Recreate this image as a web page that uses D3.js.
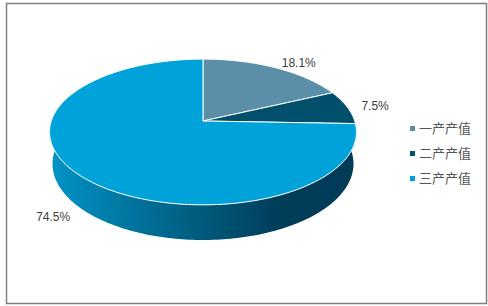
<!DOCTYPE html>
<html>
<head>
<meta charset="utf-8">
<script src="https://d3js.org/d3.v7.min.js"></script>
<style>
body { margin:0; background:#fff; }
svg { display:block; font-family:"Liberation Sans", Arial, "Noto Sans CJK SC", sans-serif; }
</style>
</head>
<body>
<svg id="chart" width="488" height="306"></svg>
<script>
var categories = ['一产产值', '二产产值', '三产产值'];
var values = [18.1, 7.5, 74.5];
var colors = ['#5b8fa8', '#00506b', '#00a2da'];

var W = 488, H = 306;
var svg = d3.select('#chart');

// frame
svg.append('rect')
    .attr('x', 6.5).attr('y', 3.5)
    .attr('width', 480).attr('height', 300)
    .attr('fill', 'none').attr('stroke', '#808080').attr('stroke-width', 1.5);

// simple perspective for a tilted disc
var cx = 203, cy = 121;
var R = 100, depth = 24, dist = 586, focal = 889;
var tilt = 28 * Math.PI / 180;
var st = Math.sin(tilt), ct = Math.cos(tilt);

function project(r, phi, y) {
    var x = r * Math.sin(phi), z = -r * Math.cos(phi);
    var ys = z * st + y * ct;
    var d = dist - z * ct + y * st;
    return [cx + focal * x / d, cy + focal * ys / d];
}

var pie = d3.pie().sort(null).value(function (d) { return d; });
var arcs = pie(values);

function arcPoints(a0, a1, y) {
    var n = Math.max(2, Math.ceil(Math.abs(a1 - a0) / 0.02));
    var pts = [];
    for (var i = 0; i <= n; i++) pts.push(project(R, a0 + (a1 - a0) * i / n, y));
    return pts;
}

// side wall
var defs = svg.append('defs');
var grad = defs.append('linearGradient').attr('id', 'side')
    .attr('gradientUnits', 'userSpaceOnUse')
    .attr('x1', 50).attr('x2', 357).attr('y1', 0).attr('y2', 0);
grad.append('stop').attr('offset', '0%').attr('stop-color', '#0093c6');
grad.append('stop').attr('offset', '45%').attr('stop-color', '#005f82');
grad.append('stop').attr('offset', '75%').attr('stop-color', '#003d59');
grad.append('stop').attr('offset', '100%').attr('stop-color', '#003b56');

var a0 = Math.PI / 3, a1 = Math.PI * 5 / 3;
var sidePts = arcPoints(a0, a1, 0).concat(arcPoints(a1, a0, depth));
svg.append('path')
    .attr('d', d3.line()(sidePts) + 'Z')
    .attr('fill', 'url(#side)');

// top face
svg.selectAll('path.slice').data(arcs).enter().append('path')
    .attr('class', 'slice')
    .attr('d', function (d) {
        return d3.line()([[cx, cy]].concat(arcPoints(d.startAngle, d.endAngle, 0))) + 'Z';
    })
    .attr('fill', function (d, i) { return colors[i]; })
    .attr('stroke', '#fff').attr('stroke-width', 1).attr('stroke-linejoin', 'round');

// labels
svg.selectAll('text.lbl').data(arcs).enter().append('text')
    .attr('class', 'lbl')
    .each(function (d) {
        var mid = (d.startAngle + d.endAngle) / 2;
        var near = Math.cos(mid) < 0;
        var p = project(R * 1.1, mid, near ? depth : 0);
        d3.select(this)
            .attr('x', p[0]).attr('y', p[1]).attr('dy', '0.35em')
            .attr('text-anchor', Math.sin(mid) >= 0 ? 'start' : 'end');
    })
    .attr('font-size', 12).attr('fill', '#404040')
    .text(function (d) { return d.data.toFixed(1) + '%'; });

// legend
var legend = svg.append('g').attr('transform', 'translate(410,128.5)');
var item = legend.selectAll('g').data(categories).enter().append('g')
    .attr('transform', function (d, i) { return 'translate(0,' + i * 25 + ')'; });
item.append('rect')
    .attr('x', 0).attr('y', -2.5).attr('width', 5).attr('height', 5)
    .attr('fill', function (d, i) { return colors[i]; });
item.append('text')
    .attr('x', 9).attr('dy', '0.35em')
    .attr('font-size', 13).attr('fill', '#555')
    .attr('font-family', '"Noto Sans CJK SC", sans-serif')
    .text(function (d) { return d; });
</script>
</body>
</html>
